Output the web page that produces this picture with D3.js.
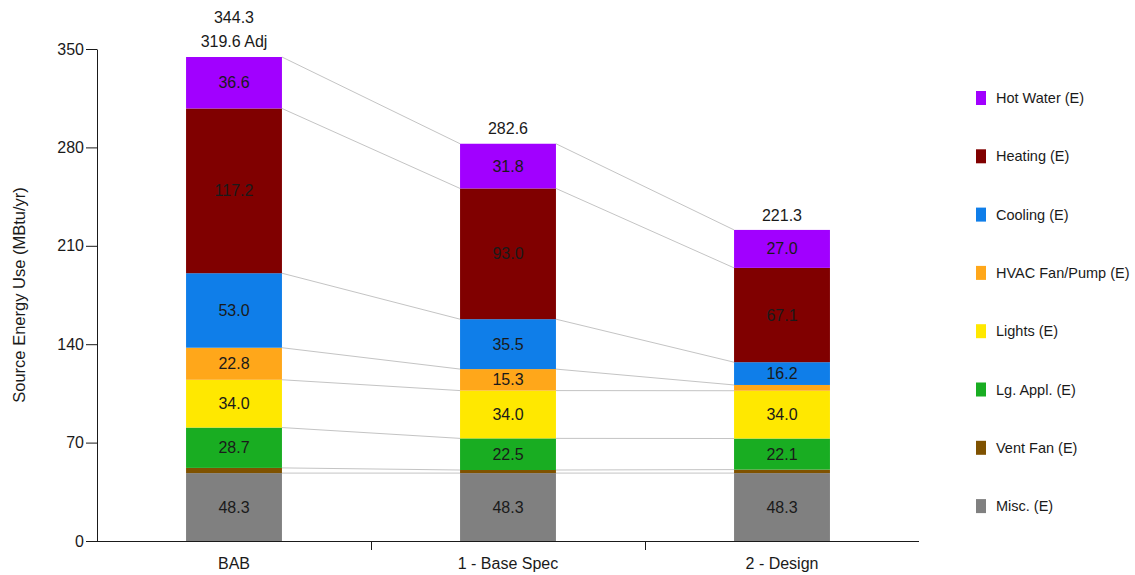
<!DOCTYPE html>
<html>
<head>
<meta charset="utf-8">
<script src="https://cdn.jsdelivr.net/npm/d3@7"></script>
<style>
  body { margin: 0; background: #fff; }
  svg text { font-family: "Liberation Sans", Arial, sans-serif; }
</style>
</head>
<body>
<svg id="chart" width="1135" height="575"></svg>
<script>
// categories and series (bottom to top)
var cases = ["BAB", "1 - Base Spec", "2 - Design"];
var enduses = ["Misc. (E)", "Vent Fan (E)", "Lg. Appl. (E)", "Lights (E)",
  "HVAC Fan/Pump (E)", "Cooling (E)", "Heating (E)", "Hot Water (E)"];
var colors = ["#808080", "#7f5200", "#19ad22", "#ffe800", "#ffa71a", "#0f7ee9", "#800000", "#a100ff"];

var misc = [48.3, 48.3, 48.3];
var ventFan = [3.7, 2.2, 2.5];
var lgAppl = [28.7, 22.5, 22.1];
var lights = [34.0, 34.0, 34.0];
var hvacFan = [22.8, 15.3, 4.1];
var cooling = [53.0, 35.5, 16.2];
var heating = [117.2, 93.0, 67.1];
var hotWater = [36.6, 31.8, 27.0];

var totals = ["344.3", "282.6", "221.3"];
var adjLabel = "319.6 Adj";
var yTicks = [0, 70, 140, 210, 280, 350];

var series = [misc, ventFan, lgAppl, lights, hvacFan, cooling, heating, hotWater];

var fs = "16px";
var ink = "#1a1a1a";
var svg = d3.select("#chart");

var x = d3.scaleBand().domain(cases).range([97, 919]).padding(0);
var barW = x.bandwidth() * 0.35;
var y = d3.scaleLinear().domain([0, 350]).range([541, 49]);

// build stacked rows
var rows = cases.map(function (c, i) {
  var r = { name: c };
  enduses.forEach(function (e, k) { r[e] = series[k][i]; });
  return r;
});
var stack = d3.stack().keys(enduses)(rows);

function barLeft(c) { return x(c) + (x.bandwidth() - barW) / 2; }

// connector lines between bars
stack.forEach(function (layer) {
  for (var i = 0; i < cases.length - 1; i++) {
    svg.append("line")
      .attr("x1", barLeft(cases[i]) + barW)
      .attr("y1", y(layer[i][1]))
      .attr("x2", barLeft(cases[i + 1]))
      .attr("y2", y(layer[i + 1][1]))
      .attr("stroke", "#c4c4c4")
      .attr("stroke-width", 1);
  }
});

// bars
var groups = svg.selectAll(".layer")
  .data(stack)
  .enter()
  .append("g")
  .attr("class", "layer")
  .attr("fill", function (d, k) { return colors[k]; });

groups.selectAll("rect")
  .data(function (d) { return d; })
  .enter()
  .append("rect")
  .attr("x", function (d) { return barLeft(d.data.name); })
  .attr("y", function (d) { return y(d[1]); })
  .attr("width", barW)
  .attr("height", function (d) { return y(d[0]) - y(d[1]); });

// value labels inside big enough segments
groups.selectAll("text")
  .data(function (d) { return d.filter(function (s) { return s[1] - s[0] > 8; }); })
  .enter()
  .append("text")
  .attr("x", function (d) { return barLeft(d.data.name) + barW / 2; })
  .attr("y", function (d) { return y((d[0] + d[1]) / 2); })
  .attr("dy", "0.35em")
  .attr("text-anchor", "middle")
  .attr("font-size", fs)
  .attr("fill", ink)
  .text(function (d) { return (d[1] - d[0]).toFixed(1); });

// totals above bars
var topLayer = stack[stack.length - 1];
cases.forEach(function (c, i) {
  var cx = barLeft(c) + barW / 2;
  var ty = y(topLayer[i][1]);
  if (i === 0) {
    svg.append("text").attr("x", cx).attr("y", ty - 16).attr("dy", "0.35em")
      .attr("text-anchor", "middle").attr("font-size", fs).attr("fill", ink)
      .text(adjLabel);
    svg.append("text").attr("x", cx).attr("y", ty - 40).attr("dy", "0.35em")
      .attr("text-anchor", "middle").attr("font-size", fs).attr("fill", ink)
      .text(totals[i]);
  } else {
    svg.append("text").attr("x", cx).attr("y", ty - 15).attr("dy", "0.35em")
      .attr("text-anchor", "middle").attr("font-size", fs).attr("fill", ink)
      .text(totals[i]);
  }
});

// y axis
var yAxis = svg.append("g")
  .attr("transform", "translate(97,0)")
  .call(d3.axisLeft(y).tickValues(yTicks).tickSize(11).tickSizeOuter(0).tickPadding(2));
yAxis.selectAll("text").attr("font-size", fs).attr("fill", ink)
  .style("font-family", "Liberation Sans, Arial, sans-serif");
yAxis.selectAll("path, line").attr("stroke", ink);

// x axis
svg.append("line").attr("x1", 97).attr("x2", 919).attr("y1", 541.5).attr("y2", 541.5)
  .attr("stroke", ink);
cases.slice(1).forEach(function (c) {
  svg.append("line").attr("x1", Math.round(x(c)) + 0.5).attr("x2", Math.round(x(c)) + 0.5)
    .attr("y1", 541).attr("y2", 550).attr("stroke", ink);
});
svg.selectAll(".xlab")
  .data(cases)
  .enter()
  .append("text")
  .attr("class", "xlab")
  .attr("x", function (c) { return x(c) + x.bandwidth() / 2; })
  .attr("y", 563)
  .attr("dy", "0.35em")
  .attr("text-anchor", "middle")
  .attr("font-size", fs)
  .attr("fill", ink)
  .text(function (c) { return c; });

// y title
svg.append("text")
  .attr("transform", "translate(19,295) rotate(-90)")
  .attr("dy", "0.35em")
  .attr("text-anchor", "middle")
  .attr("font-size", "16.5px")
  .attr("fill", ink)
  .text("Source Energy Use (MBtu/yr)");

// legend, top item is the top of the stack
var legendItems = enduses.slice().reverse();
var legendColors = colors.slice().reverse();
var leg = svg.selectAll(".leg")
  .data(legendItems)
  .enter()
  .append("g")
  .attr("class", "leg")
  .attr("transform", function (d, i) { return "translate(976," + (98 + i * 58.3) + ")"; });
leg.append("rect").attr("x", 0).attr("y", -7).attr("width", 10).attr("height", 14)
  .attr("fill", function (d, i) { return legendColors[i]; });
leg.append("text").attr("x", 20).attr("y", 0).attr("dy", "0.35em")
  .attr("font-size", "14.5px").attr("fill", ink)
  .text(function (d) { return d; });
</script>
</body>
</html>
